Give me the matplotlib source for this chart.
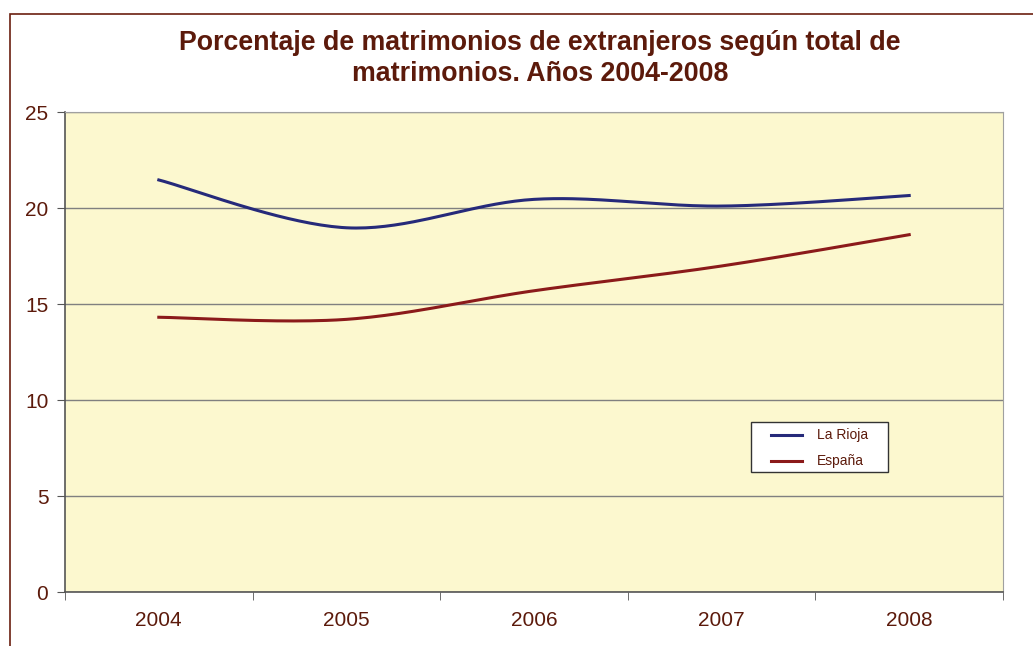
import numpy as np
import matplotlib
matplotlib.use("Agg")
import matplotlib.pyplot as plt
from matplotlib.patches import Rectangle
from matplotlib.lines import Line2D

# Datos
years = ["2004", "2005", "2006", "2007", "2008"]
la_rioja = [21.46, 18.97, 20.45, 20.10, 20.65]
espana = [14.31, 14.20, 15.69, 16.98, 18.61]
series_names = ["La Rioja", "España"]
series_colors = ["#262a7a", "#8b1a1a"]

txt = "#5c1a0b"
plt.rcParams['font.family'] = ['Liberation Sans', 'DejaVu Sans']


def smooth(x, y, n=40):
    # curva suavizada tipo Excel (Bezier con puntos de control Catmull-Rom)
    x = np.asarray(x, float)
    y = np.asarray(y, float)
    px = np.concatenate([[x[0]], x, [x[-1]]])
    py = np.concatenate([[y[0]], y, [y[-1]]])
    xs, ys = [], []
    t = np.linspace(0, 1, n)
    for i in range(len(x) - 1):
        p0 = np.array([px[i + 1], py[i + 1]])
        p3 = np.array([px[i + 2], py[i + 2]])
        c1 = p0 + (np.array([px[i + 2], py[i + 2]]) - np.array([px[i], py[i]])) / 6
        c2 = p3 - (np.array([px[i + 3], py[i + 3]]) - np.array([px[i + 1], py[i + 1]])) / 6
        b = ((1 - t) ** 3)[:, None] * p0 + (3 * (1 - t) ** 2 * t)[:, None] * c1 \
            + (3 * (1 - t) * t ** 2)[:, None] * c2 + (t ** 3)[:, None] * p3
        xs.extend(b[:, 0])
        ys.extend(b[:, 1])
    return np.array(xs), np.array(ys)


W, H = 1033, 646
fig = plt.figure(figsize=(W / 100, H / 100), dpi=100)
fig.patches.append(Rectangle((10 / W, -0.1), 1.2, (H - 14) / H + 0.1,
                             transform=fig.transFigure, fill=False,
                             edgecolor="#6b1f0f", linewidth=1.2))

ax = fig.add_axes([65 / W, 54 / H, 938 / W, 480 / H])
ax.set_facecolor("#fcf8cf")

xi = np.arange(len(years))
for vals, col in zip([la_rioja, espana], series_colors):
    sx, sy = smooth(xi, vals)
    ax.plot(sx, sy, color=col, linewidth=2.2, zorder=3)

ax.set_xlim(-0.5, len(years) - 0.5)
ax.set_ylim(0, 25)
ax.set_yticks(range(0, 26, 5))
ax.yaxis.grid(True, color="#808080", linewidth=1)
ax.set_axisbelow(True)

ax.set_xticks(xi)
ax.set_xticklabels(years)
ax.set_xticks(np.arange(-0.5, len(years)), minor=True)
ax.tick_params(axis="x", which="major", length=0, pad=14, labelsize=15, labelcolor=txt)
ax.tick_params(axis="x", which="minor", length=6, color="#555555", direction="out")
ax.tick_params(axis="y", length=6, color="#555555", labelsize=15, labelcolor=txt, pad=6)

for s in ["top", "right"]:
    ax.spines[s].set_color("#a0a0a0")
for s in ["left", "bottom"]:
    ax.spines[s].set_color("#555555")
    ax.spines[s].set_linewidth(1.2)

fig.text(540 / W, 1 - 58.5 / H,
         "Porcentaje de matrimonios de extranjeros según total de\nmatrimonios. Años 2004-2008",
         ha="center", va="center", fontsize=19.3, fontweight="bold", color=txt,
         linespacing=1.27)

# leyenda dibujada a mano (caja en pixeles de la figura)
lx0, ly0, lx1, ly1 = 751, 422, 888, 472
fig.patches.append(Rectangle((lx0 / W, 1 - ly1 / H), (lx1 - lx0) / W, (ly1 - ly0) / H,
                             transform=fig.transFigure, facecolor="white",
                             edgecolor="#333333", linewidth=1, zorder=5))
for k, (name, col) in enumerate(zip(series_names, series_colors)):
    yy = 1 - (435 + 26 * k) / H
    fig.lines.append(Line2D([771 / W, 802 / W], [yy, yy], transform=fig.transFigure,
                            color=col, linewidth=2.2, zorder=6))
    fig.text(817 / W, yy, name, ha="left", va="center", fontsize=10,
             color=txt, zorder=6)

fig.savefig("out.png", dpi=100, facecolor="white")
